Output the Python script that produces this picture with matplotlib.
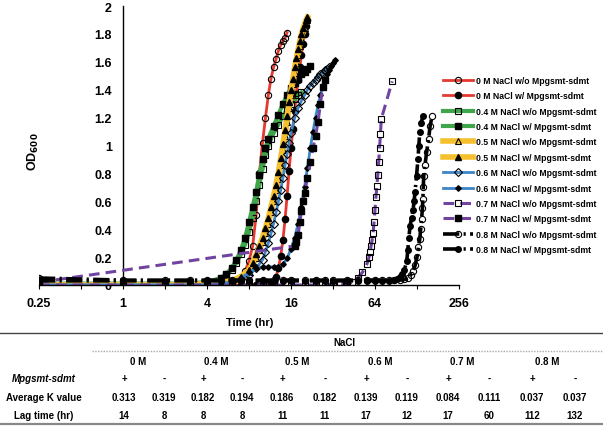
import matplotlib
matplotlib.use("Agg")
import matplotlib.pyplot as plt
from matplotlib.lines import Line2D

plt.rcParams['font.family'] = ['Liberation Sans', 'DejaVu Sans']
plt.rcParams['font.weight'] = 'bold'
plt.rcParams['mathtext.default'] = 'bf'

# ---------------- data ----------------
t_0_wo = [0.25, 1, 2, 3, 4, 5, 6, 7, 7.5, 8, 8.5, 9, 9.5, 10, 10.5, 11, 11.5, 12, 12.5, 13, 13.5, 14, 14.5, 15]
od_0_wo = [0.01, 0.01, 0.01, 0.01, 0.01, 0.02, 0.03, 0.06, 0.1, 0.17, 0.28, 0.5, 0.8, 1.02, 1.2, 1.36, 1.48, 1.56, 1.62, 1.68, 1.72, 1.75, 1.77, 1.81]

t_0_w = [0.25, 1, 2, 3, 4, 5, 6, 7, 8, 9, 10, 11, 12, 12.5, 13, 13.5, 14, 14.5, 15, 15.5, 16, 16.5, 17, 17.5, 18, 18.5, 19, 19.5, 20, 20.5, 21]
od_0_w = [0.0, 0.0, 0.0, 0.0, 0.0, 0.0, 0.0, 0.0, 0.0, 0.0, 0.0, 0.0, 0.02, 0.06, 0.12, 0.21, 0.32, 0.47, 0.64, 0.82, 0.98, 1.12, 1.25, 1.37, 1.47, 1.56, 1.65, 1.73, 1.8, 1.86, 1.9]

t_04_wo = [0.25, 1, 2, 3, 4, 5, 5.5, 6, 6.5, 7, 7.5, 8, 8.5, 9, 9.5, 10, 10.5, 11, 11.5, 12, 13, 14, 15, 16, 17, 18, 19]
od_04_wo = [0.01, 0.01, 0.01, 0.01, 0.02, 0.04, 0.07, 0.11, 0.16, 0.22, 0.29, 0.38, 0.48, 0.6, 0.72, 0.83, 0.93, 1.0, 1.05, 1.09, 1.15, 1.21, 1.26, 1.3, 1.33, 1.36, 1.38]

t_04_w = [0.25, 1, 2, 3, 4, 5, 5.5, 6, 6.5, 7, 7.5, 8, 8.5, 9, 9.5, 10, 10.5, 11, 12, 13, 14, 15, 16, 17, 18, 19, 20, 21, 22]
od_04_w = [0.0, 0.0, 0.0, 0.01, 0.02, 0.05, 0.08, 0.12, 0.18, 0.25, 0.34, 0.45, 0.56, 0.67, 0.79, 0.9, 0.98, 1.05, 1.14, 1.22, 1.3, 1.36, 1.41, 1.45, 1.48, 1.51, 1.53, 1.55, 1.57]

t_05_wo = [0.25, 1, 2, 3, 4, 5, 6, 7, 8, 8.5, 9, 9.5, 10, 10.5, 11, 11.5, 12, 12.5, 13, 13.5, 14, 14.5, 15, 15.5, 16, 16.5, 17, 17.5, 18, 18.5, 19, 19.5, 20, 20.5, 21]
od_05_wo = [0.0, 0.0, 0.0, 0.0, 0.01, 0.01, 0.02, 0.04, 0.09, 0.14, 0.19, 0.25, 0.31, 0.37, 0.44, 0.52, 0.6, 0.68, 0.76, 0.86, 0.97, 1.07, 1.17, 1.27, 1.36, 1.44, 1.52, 1.59, 1.65, 1.71, 1.76, 1.8, 1.84, 1.87, 1.9]

t_05_w = [0.25, 1, 2, 3, 4, 5, 6, 7, 8, 8.5, 9, 9.5, 10, 10.5, 11, 11.5, 12, 12.5, 13, 13.5, 14, 14.5, 15, 15.5, 16, 16.5, 17, 17.5, 18, 18.5, 19, 19.5, 20, 20.5, 21]
od_05_w = [0.0, 0.0, 0.0, 0.0, 0.01, 0.02, 0.03, 0.06, 0.11, 0.16, 0.22, 0.28, 0.34, 0.41, 0.48, 0.56, 0.64, 0.72, 0.81, 0.91, 1.01, 1.11, 1.21, 1.31, 1.4, 1.48, 1.56, 1.63, 1.69, 1.75, 1.8, 1.84, 1.87, 1.9, 1.92]

t_06_wo = [0.25, 1, 2, 3, 4, 5, 6, 7, 8, 9, 10, 10.5, 11, 11.5, 12, 12.5, 13, 13.5, 14, 14.5, 15, 15.5, 16, 17, 18, 19, 20, 21, 22, 23, 24, 25, 26, 27, 28, 29, 30]
od_06_wo = [0.0, 0.0, 0.0, 0.0, 0.0, 0.01, 0.02, 0.04, 0.07, 0.12, 0.18, 0.24, 0.3, 0.37, 0.44, 0.52, 0.6, 0.68, 0.77, 0.86, 0.94, 1.02, 1.09, 1.2, 1.27, 1.32, 1.36, 1.4, 1.43, 1.45, 1.47, 1.49, 1.51, 1.52, 1.54, 1.55, 1.56]

t_06_w = [0.25, 1, 2, 3, 4, 5, 6, 7, 8, 9, 10, 11, 12, 13, 14, 15, 16, 17, 18, 19, 20, 21, 22, 23, 24, 25, 26, 27, 28, 29, 30, 31, 32, 33]
od_06_w = [0.0, 0.0, 0.0, 0.0, 0.0, 0.01, 0.02, 0.05, 0.09, 0.12, 0.13, 0.13, 0.13, 0.13, 0.15, 0.19, 0.26, 0.34, 0.44, 0.56, 0.7, 0.84, 0.98, 1.1, 1.2, 1.29, 1.36, 1.42, 1.47, 1.51, 1.54, 1.57, 1.59, 1.61]

t_07_wo = [0.25, 1, 2, 3, 4, 6, 8, 10, 12, 16, 20, 24, 28, 32, 36, 40, 44, 48, 52, 56, 58, 59, 60, 61, 62, 63, 64, 65, 66, 67, 68, 69, 70, 71, 85]
od_07_wo = [0.0, 0.0, 0.0, 0.0, 0.0, 0.0, 0.0, 0.0, 0.0, 0.0, 0.0, 0.0, 0.0, 0.01, 0.01, 0.01, 0.02, 0.05, 0.09, 0.15, 0.2, 0.24, 0.28, 0.32, 0.37, 0.45, 0.54, 0.63, 0.71, 0.79, 0.88, 0.98, 1.08, 1.19, 1.46]

t_07_w = [0.25, 17, 17.5, 18, 18.5, 19, 19.5, 20, 21, 22, 23, 24, 25, 26, 27, 28]
od_07_w = [0.02, 0.28, 0.31, 0.36, 0.45, 0.53, 0.6, 0.66, 0.77, 0.88, 0.98, 1.07, 1.17, 1.3, 1.42, 1.47]

t_08_wo = [0.25, 1, 2, 3, 4, 5, 6, 7, 8, 10, 12, 14, 16, 20, 24, 28, 32, 40, 48, 56, 64, 72, 80, 88, 96, 104, 110, 115, 120, 124, 128, 131, 134, 136, 138, 140, 141, 142, 143, 146, 150, 155, 159, 164]
od_08_wo = [0.05, 0.035, 0.035, 0.035, 0.035, 0.035, 0.035, 0.035, 0.035, 0.035, 0.035, 0.035, 0.035, 0.035, 0.035, 0.035, 0.035, 0.035, 0.035, 0.035, 0.035, 0.035, 0.035, 0.035, 0.035, 0.04, 0.05, 0.07, 0.1, 0.14, 0.2, 0.27, 0.33, 0.4, 0.47, 0.55, 0.62, 0.7, 0.78, 0.86, 0.95, 1.05, 1.14, 1.21]

t_08_w = [0.25, 1, 2, 3, 4, 5, 6, 7, 8, 10, 12, 14, 16, 20, 24, 28, 32, 40, 48, 56, 64, 72, 80, 88, 92, 96, 100, 104, 108, 110, 112, 114, 117, 120, 122, 124, 127, 130, 132, 134, 137, 141]
od_08_w = [0.03, 0.03, 0.03, 0.03, 0.03, 0.03, 0.03, 0.03, 0.03, 0.03, 0.03, 0.03, 0.03, 0.03, 0.03, 0.03, 0.03, 0.03, 0.03, 0.03, 0.03, 0.03, 0.03, 0.035, 0.04, 0.06, 0.08, 0.11, 0.17, 0.25, 0.34, 0.42, 0.48, 0.54, 0.6, 0.67, 0.78, 0.9, 1.0, 1.1, 1.16, 1.21]

x_ticks = [0.25, 0.5, 1, 2, 4, 8, 16, 32, 64, 128, 256]
x_labels = ['0.25', '', '1', '', '4', '', '16', '', '64', '', '256']
y_ticks = [0, 0.2, 0.4, 0.6, 0.8, 1, 1.2, 1.4, 1.6, 1.8, 2]
y_labels = ['0', '0.2', '0.4', '0.6', '0.8', '1', '1.2', '1.4', '1.6', '1.8', '2']

legend_labels = ['0 M NaCl w/o Mpgsmt-sdmt', '0 M NaCl w/ Mpgsmt-sdmt',
                 '0.4 M NaCl w/o Mpgsmt-sdmt', '0.4 M NaCl w/ Mpgsmt-sdmt',
                 '0.5 M NaCl w/o Mpgsmt-sdmt', '0.5 M NaCl w/ Mpgsmt-sdmt',
                 '0.6 M NaCl w/o Mpgsmt-sdmt', '0.6 M NaCl w/ Mpgsmt-sdmt',
                 '0.7 M NaCl w/o Mpgsmt-sdmt', '0.7 M NaCl w/ Mpgsmt-sdmt',
                 '0.8 M NaCl w/o Mpgsmt-sdmt', '0.8 M NaCl w/ Mpgsmt-sdmt']

nacl_groups = ['0 M', '0.4 M', '0.5 M', '0.6 M', '0.7 M', '0.8 M']
gene_signs = ['+', '-', '+', '-', '+', '-', '+', '-', '+', '-', '+', '-']
k_values = ['0.313', '0.319', '0.182', '0.194', '0.186', '0.182', '0.139', '0.119', '0.084', '0.111', '0.037', '0.037']
lag_times = ['14', '8', '8', '8', '11', '11', '17', '12', '17', '60', '112', '132']

# ---------------- styles ----------------
RED = '#e53a30'
GREEN = '#3fa64b'
GOLD = '#f6bf2d'
BLUE = '#3d85c6'
PURPLE = '#7044a0'
DASH = (0, (3.5, 2))
DASHDOT = (0, (4.5, 1.2, 0.6, 1.2))

series = [
    (t_0_wo, od_0_wo, dict(color=RED, lw=2.0, ls='-', marker='o', ms=4.5, mfc='none', mec='black', mew=0.8)),
    (t_0_w, od_0_w, dict(color=RED, lw=2.0, ls='-', marker='o', ms=4.5, mfc='black', mec='black')),
    (t_04_wo, od_04_wo, dict(color=GREEN, lw=3.0, ls='-', marker='s', ms=4.5, mfc='none', mec='black', mew=0.8)),
    (t_04_w, od_04_w, dict(color=GREEN, lw=3.0, ls='-', marker='s', ms=4.5, mfc='black', mec='black')),
    (t_05_wo, od_05_wo, dict(color=GOLD, lw=4.0, ls='-', marker='^', ms=5, mfc='none', mec='black', mew=0.8)),
    (t_05_w, od_05_w, dict(color=GOLD, lw=4.0, ls='-', marker='^', ms=5, mfc='black', mec='black')),
    (t_06_wo, od_06_wo, dict(color=BLUE, lw=2.0, ls='-', marker='D', ms=3.8, mfc='none', mec='black', mew=0.8)),
    (t_06_w, od_06_w, dict(color=BLUE, lw=2.0, ls='-', marker='D', ms=2.8, mfc='black', mec='black')),
    (t_07_wo, od_07_wo, dict(color=PURPLE, lw=2.2, ls=DASH, marker='s', ms=5, mfc='none', mec='black', mew=0.8)),
    (t_07_w, od_07_w, dict(color=PURPLE, lw=2.2, ls=DASH, marker='s', ms=5, mfc='black', mec='black')),
    (t_08_wo, od_08_wo, dict(color='black', lw=2.6, ls=DASHDOT, marker='o', ms=4.5, mfc='none', mec='black', mew=0.8)),
    (t_08_w, od_08_w, dict(color='black', lw=2.6, ls=DASHDOT, marker='o', ms=4.0, mfc='black', mec='black')),
]

W, H = 603, 427
fig = plt.figure(figsize=(W / 100, H / 100), dpi=100)

def fx(px):
    return px / W

def fy(py):
    return 1 - py / H

ax = fig.add_axes([fx(39), fy(286), fx(459) - fx(39), fy(7) - fy(286)])
ax.set_xscale('log', base=2)
ax.set_xlim(0.25, 256)
ax.set_ylim(0, 2)

handles = []
for (t, od, st), lab in zip(series, legend_labels):
    h, = ax.plot(t, od, label=lab, **st)
    handles.append(h)

for s in ['top', 'right']:
    ax.spines[s].set_visible(False)
ax.spines['left'].set_position(('data', 1))
ax.spines['left'].set_linewidth(1.0)
ax.spines['bottom'].set_linewidth(1.0)
ax.spines['left'].set_zorder(0)

ax.set_xticks(x_ticks)
ax.set_xticklabels(x_labels)
ax.xaxis.set_minor_locator(matplotlib.ticker.NullLocator())
ax.tick_params(axis='x', direction='out', length=3, width=0.8, pad=6, labelsize=9)
ax.set_yticks(y_ticks)
ax.set_yticklabels(y_labels)
ax.tick_params(axis='y', length=0, pad=8, labelsize=9)
for lbl in ax.get_xticklabels() + ax.get_yticklabels():
    lbl.set_fontweight('bold')

fig.text(fx(250), fy(323), 'Time (hr)', ha='center', va='center', fontsize=8, fontweight='bold')
fig.text(fx(33), fy(152), r'OD$_{600}$', ha='center', va='center', rotation=90, fontsize=9, fontweight='bold')

leg = fig.legend(handles=handles, loc='upper left', bbox_to_anchor=(fx(443), fy(77)),
                 frameon=False, fontsize=6.2, handlelength=3.5, handletextpad=0.35,
                 labelspacing=0.74, borderpad=0, borderaxespad=0)
for txt in leg.get_texts():
    txt.set_fontweight('bold')

# ---------------- table ----------------
fig.add_artist(Line2D([0, 1], [fy(334), fy(334)], transform=fig.transFigure, color='#444444', lw=1.0))
fig.add_artist(Line2D([fx(92), 1], [fy(352), fy(352)], transform=fig.transFigure, color='#aaaaaa', lw=1.0, ls=(0, (1, 1))))
fig.add_artist(Line2D([0, 1], [fy(424.5), fy(424.5)], transform=fig.transFigure, color='#888888', lw=1.6))

tfs = 7
fig.text(fx(344), fy(343), 'NaCl', ha='center', va='center', fontsize=tfs, fontweight='bold')
col_x = [124, 164, 203, 242, 282, 325, 366, 407, 448, 489, 532, 575]
for i, g in enumerate(nacl_groups):
    cx = (col_x[2 * i] + col_x[2 * i + 1]) / 2 - 6
    fig.text(fx(cx), fy(362), g, ha='center', va='center', fontsize=tfs, fontweight='bold')

fig.text(fx(44), fy(379), 'Mpgsmt-sdmt', ha='center', va='center', fontsize=tfs, fontweight='bold', style='italic')
fig.text(fx(44), fy(398), 'Average K value', ha='center', va='center', fontsize=tfs, fontweight='bold')
fig.text(fx(44), fy(416), 'Lag time (hr)', ha='center', va='center', fontsize=tfs, fontweight='bold')
for i in range(12):
    fig.text(fx(col_x[i]), fy(379), gene_signs[i], ha='center', va='center', fontsize=tfs, fontweight='bold')
    fig.text(fx(col_x[i]), fy(398), k_values[i], ha='center', va='center', fontsize=tfs, fontweight='bold')
    fig.text(fx(col_x[i]), fy(416), lag_times[i], ha='center', va='center', fontsize=tfs, fontweight='bold')

fig.savefig('out.png', dpi=100)
